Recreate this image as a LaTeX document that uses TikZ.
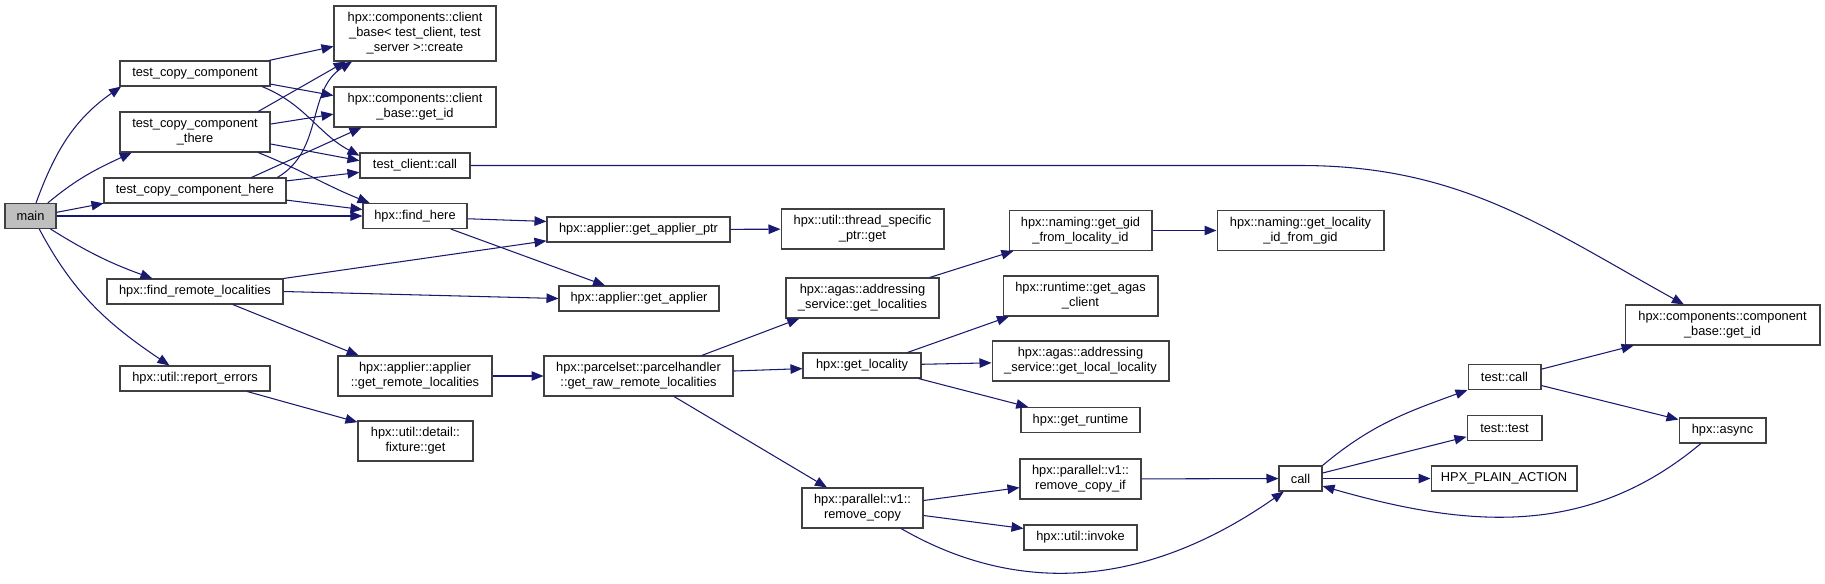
\documentclass[tikz,border=0pt]{standalone}
\usepackage{fontspec}
\setmainfont{Liberation Sans}
\usetikzlibrary{arrows.meta}

\definecolor{edgeblue}{HTML}{191970}
\definecolor{boxline}{HTML}{404040}
\definecolor{mainfill}{HTML}{BFBFBF}

\begin{document}
\begin{tikzpicture}[
  x=0.02cm, y=0.02cm,
  fn/.style={draw=boxline, fill=white, line width=0.6pt, inner sep=0pt, align=center,
    font=\fontsize{7.3}{8.5}\selectfont, minimum height=0.5cm},
  fn2/.style={fn, minimum height=0.8cm},
  fn3/.style={fn, minimum height=1.1cm},
  arr/.style={->, draw=edgeblue, line width=0.6pt},
  >={Triangle[length=0.24cm, width=0.19cm]}
]
  \useasboundingbox (0,0) rectangle (1825,-583);

  % callers on the left
  \node[fn, fill=mainfill, minimum width=1.02cm] (main) at (30.5,-216) {main};
  \node[fn,  minimum width=3.0cm]  (tcc)      at (195,-73.5)  {test\_copy\_component};
  \node[fn2, minimum width=3.0cm]  (tccthere) at (195,-132)   {test\_copy\_component\\\_there};
  \node[fn,  minimum width=3.64cm] (tcchere)  at (195,-190.5) {test\_copy\_component\_here};
  \node[fn,  minimum width=3.52cm] (findrem)  at (195,-291.5) {hpx::find\_remote\_localities};
  \node[fn,  minimum width=3.0cm]  (report)   at (195,-378.5) {hpx::util::report\_errors};

  \node[fn3, minimum width=3.24cm] (create)   at (415,-33.5)  {hpx::components::client\\\_base< test\_client, test\\\_server >::create};
  \node[fn2, minimum width=3.24cm] (cbid)     at (415,-107)   {hpx::components::client\\\_base::get\_id};
  \node[fn,  minimum width=2.2cm]  (tccall)   at (415,-165.5) {test\_client::call};
  \node[fn,  minimum width=2.08cm] (findhere) at (415,-216)   {hpx::find\_here};
  \node[fn2, minimum width=3.08cm] (remloc)   at (415,-376)   {hpx::applier::applier\\::get\_remote\_localities};
  \node[fn2, minimum width=2.3cm]  (fixture)  at (415.5,-441) {hpx::util::detail::\\fixture::get};

  \node[fn,  minimum width=3.66cm] (applptr)  at (638.5,-229.5) {hpx::applier::get\_applier\_ptr};
  \node[fn,  minimum width=3.2cm]  (appl)     at (639,-298.5)   {hpx::applier::get\_applier};
  \node[fn2, minimum width=3.78cm] (parcel)   at (638.5,-376)   {hpx::parcelset::parcelhandler\\::get\_raw\_remote\_localities};

  \node[fn2, minimum width=3.26cm] (tsget)    at (862.5,-229)   {hpx::util::thread\_specific\\\_ptr::get};
  \node[fn2, minimum width=3.06cm] (agaslocs) at (862.5,-298)   {hpx::agas::addressing\\\_service::get\_localities};
  \node[fn,  minimum width=2.36cm] (getloc)   at (862,-365.5)   {hpx::get\_locality};
  \node[fn2, minimum width=2.42cm] (rmcopy)   at (862.5,-508)   {hpx::parallel::v1::\\remove\_copy};

  \node[fn2, minimum width=2.86cm] (getgid)   at (1080.5,-230.5) {hpx::naming::get\_gid\\\_from\_locality\_id};
  \node[fn2, minimum width=3.1cm]  (agascl)   at (1080.5,-296)   {hpx::runtime::get\_agas\\\_client};
  \node[fn2, minimum width=3.54cm] (localloc) at (1080.5,-361)   {hpx::agas::addressing\\\_service::get\_local\_locality};
  \node[fn,  minimum width=2.38cm] (getrt)    at (1080.5,-420)   {hpx::get\_runtime};
  \node[fn2, minimum width=2.42cm] (rmcopyif) at (1080.5,-479)   {hpx::parallel::v1::\\remove\_copy\_if};
  \node[fn,  minimum width=2.26cm] (invoke)   at (1080.5,-537.5) {hpx::util::invoke};

  \node[fn2, minimum width=3.34cm] (locid)    at (1300.5,-230.5) {hpx::naming::get\_locality\\\_id\_from\_gid};
  \node[fn,  minimum width=0.86cm] (call)     at (1300.5,-478.5) {call};

  \node[fn,  minimum width=1.46cm] (tcall)    at (1504.5,-377)   {test::call};
  \node[fn,  minimum width=1.5cm]  (ttest)    at (1504.5,-428)   {test::test};
  \node[fn,  minimum width=2.92cm] (plain)    at (1504,-478.5)   {HPX\_PLAIN\_ACTION};

  \node[fn2, minimum width=3.9cm]  (compid)   at (1722.5,-325)   {hpx::components::component\\\_base::get\_id};
  \node[fn,  minimum width=1.74cm] (async)    at (1722.5,-430.5) {hpx::async};

  % main
  \draw[arr] (main.67) to[out=70, in=215] (tcc.190.4);
  \draw[arr] (main.37) to[out=40, in=205] (tccthere.198);
  \draw[arr] (main.8.6) -- (tcchere.188.6);
  \draw[arr] (main) -- (findhere);
  \draw[arr] (main.-33.7) to[out=-32, in=160] (findrem.163.4);
  \draw[arr] (main.-56.8) to[out=-62, in=146] (report.153.4);

  % test_copy_component
  \draw[arr] (tcc.10) -- (create.189.5);
  \draw[arr] (tcc.-8.7) -- (cbid.172.3);
  \draw[arr] (tcc.-11.8) to[out=-22, in=152] (tccall.170);

  % test_copy_component_there
  \draw[arr] (tccthere.18.4) -- (create.202.4);
  \draw[arr] (tccthere.6.1) -- (cbid.185.6);
  \draw[arr] (tccthere.-9.1) -- (tccall.175);
  \draw[arr] (tccthere.-18.4) to[out=-22, in=158] (findhere.164.5);

  % test_copy_component_here
  \draw[arr] (tcchere.9.85) to[out=30, in=212] (create.204.7);
  \draw[arr] (tcchere.13) -- (cbid.201);
  \draw[arr] (tcchere.6.6) -- (tccall.187.8);
  \draw[arr] (tcchere.-6.6) -- (findhere.173.4);

  \draw[arr] (tccall.east) -- (tccall.east -| locid) to[out=0, in=151] (compid.152);

  \draw[arr] (findhere.-3.3) -- (applptr.175.9);
  \draw[arr] (findhere.-20.4) -- (appl.159.9);
  \draw[arr] (findrem.north east) -- (applptr.187.2);
  \draw[arr] (findrem.east) -- (appl.west);
  \draw[arr] (findrem.-19.7) -- (remloc.160);
  \draw[arr] (report.-14.9) -- (fixture.162.8);

  \draw[arr] (remloc) -- (parcel);
  \draw[arr] (applptr) -- (tsget);

  \draw[arr] (parcel.18.6) -- (agaslocs.198.3);
  \draw[arr] (parcel.3) -- (getloc.183.4);
  \draw[arr] (parcel.-30.1) -- (rmcopy.150.6);

  \draw[arr] (agaslocs.17) -- (getgid.197);
  \draw[arr] (getgid) -- (locid);

  \draw[arr] (getloc.16.2) -- (agascl.196.3);
  \draw[arr] (getloc) -- (localloc);
  \draw[arr] (getloc.-13.3) -- (getrt.166.1);

  \draw[arr] (rmcopy.7.5) -- (rmcopyif.188.5);
  \draw[arr] (rmcopy.-7.5) -- (invoke.171.4);
  \draw[arr] (rmcopy.-28) to[out=-30, in=215] (call.218.9);
  \draw[arr] (rmcopyif) -- (call);

  % call
  \draw[arr] (call.north east) to[out=40, in=200] (tcall.south west);
  \draw[arr] (call.14.4) -- (ttest.193.5);
  \draw[arr] (call) -- (plain);
  \draw[arr] (tcall.12.4) -- (compid.193);
  \draw[arr] (tcall.-13.9) -- (async.166.4);
  \draw[arr] (async.211.4) to[out=220, in=-16] (call.-19.2);
\end{tikzpicture}
\end{document}
